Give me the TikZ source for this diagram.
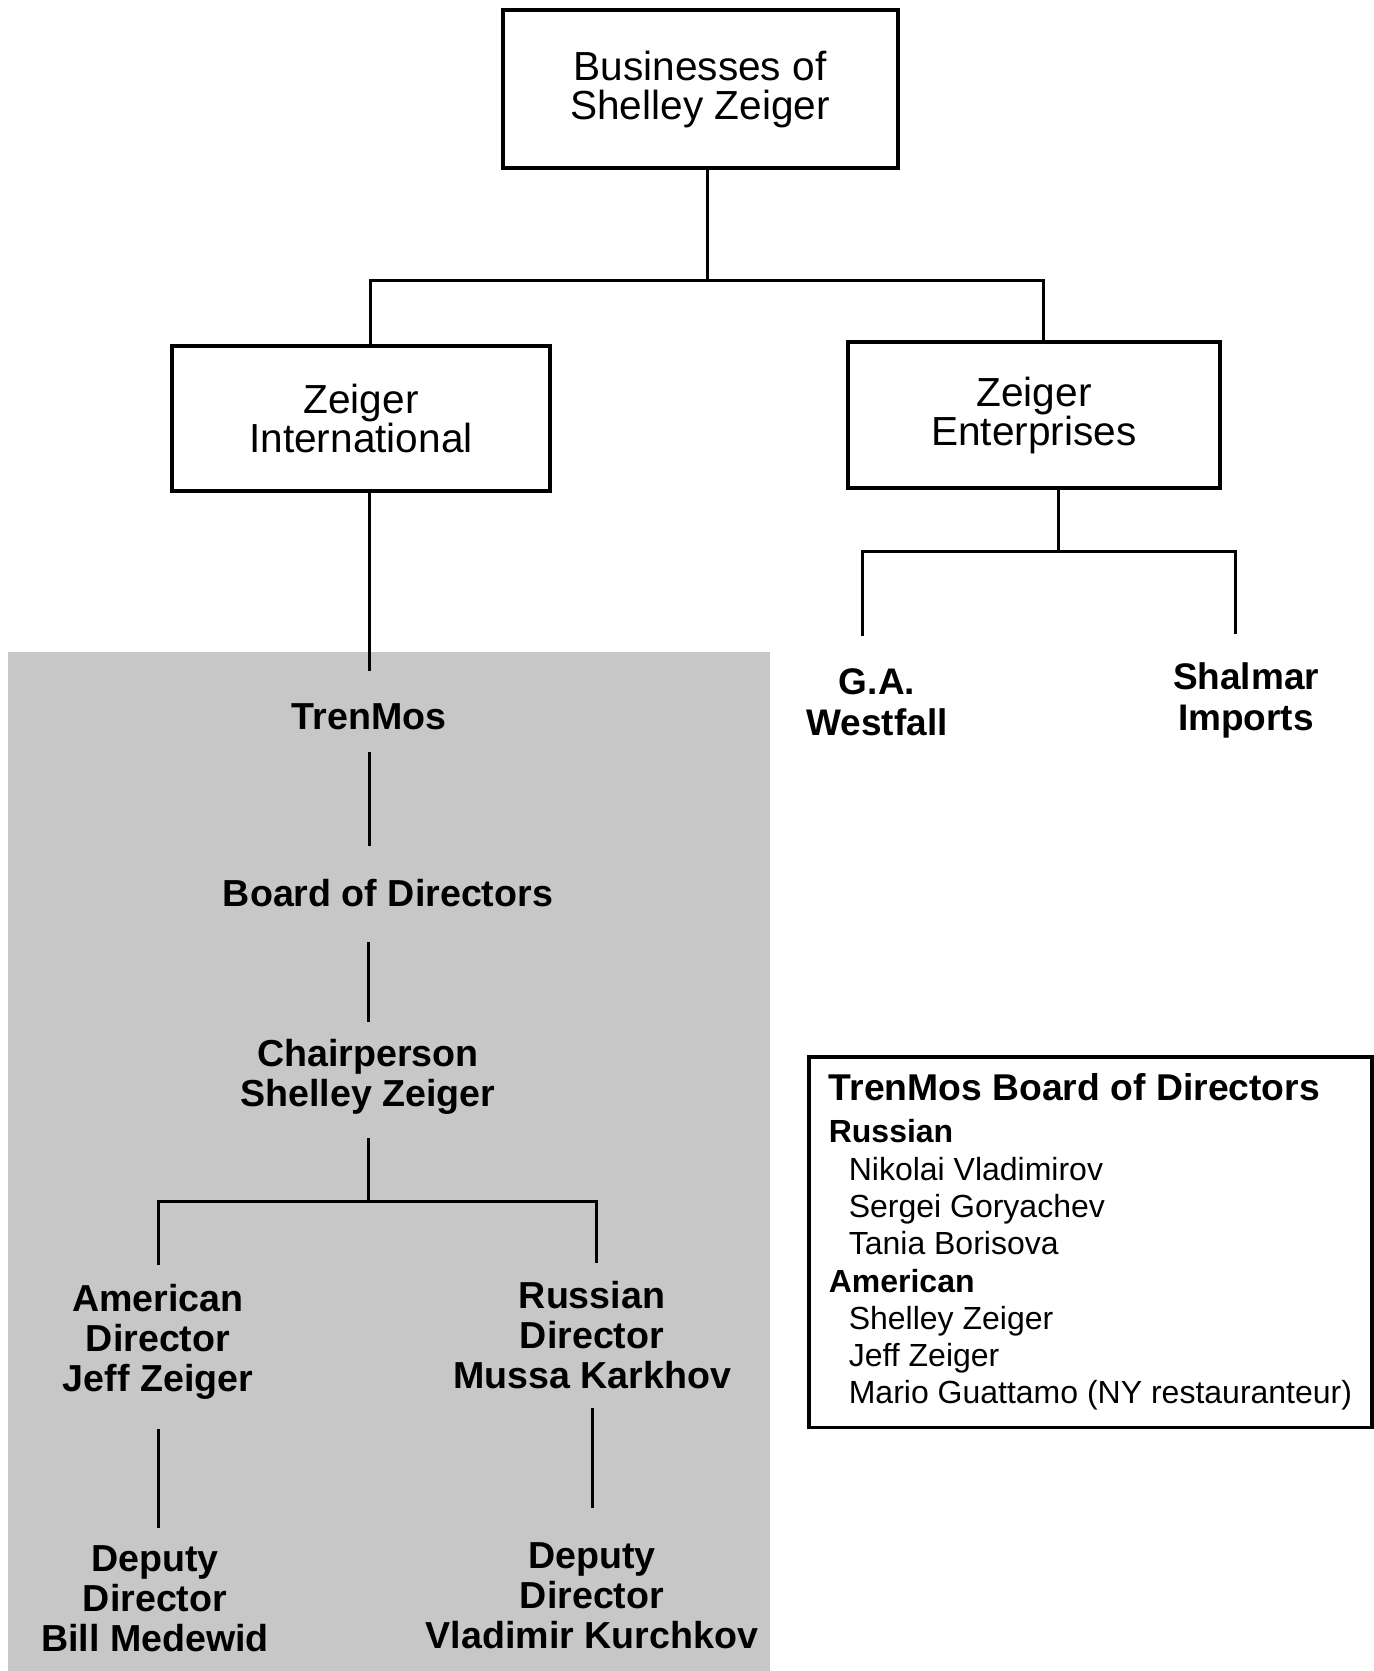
\documentclass[tikz,border=0pt]{standalone}
\usepackage{fontspec}
\setmainfont{Liberation Sans}
\begin{document}
\begin{tikzpicture}[
  x=0.5pt, y=-0.5pt,
  bizbox/.style={draw=black, line width=2pt, align=center, inner sep=0pt, font=\fontsize{20.3}{19.5}\selectfont},
  firm/.style={align=center, inner sep=0pt, font=\fontsize{18.5}{20.5}\selectfont\bfseries},
  post/.style={align=center, inner sep=0pt, font=\fontsize{18.8}{20}\selectfont\bfseries},
  link/.style={line width=1.5pt},
  members/.style={draw=black, line width=1.8pt, align=left, inner xsep=10pt, inner ysep=8.5pt, font=\fontsize{16}{18.65}\selectfont}
]
  \useasboundingbox (0,0) rectangle (1374,1671);

  % Zona sombreada de TrenMos
  \fill[black!22] (8,652) rectangle (770,1671);

  % Empresas (cajas)
  \node[bizbox, minimum width=197.5pt, minimum height=79pt] (biz) at (700,89) {Businesses of\\Shelley Zeiger};
  \node[bizbox, minimum width=189pt, minimum height=72.5pt] (zi) at (361,418) {Zeiger\\International};
  \node[bizbox, minimum width=186pt, minimum height=73pt] (ze) at (1034,415) {Zeiger\\Enterprises};

  % Filiales de Zeiger Enterprises
  \node[firm] (westfall) at (877,702) {G.A.\\Westfall};
  \node[firm] (shalmar) at (1246,700) {Shalmar\\Imports};

  % Cargos de TrenMos
  \node[post] (trenmos) at (369,717) {TrenMos};
  \node[post] (board) at (388,893) {Board of Directors};
  \node[post] (chair) at (368,1077) {Chairperson\\Shelley Zeiger};
  \node[post] (amdir) at (158,1342) {American\\Director\\Jeff Zeiger};
  \node[post] (rudir) at (592,1335) {Russian\\Director\\Mussa Karkhov};
  \node[post] (amdep) at (155,1599) {Deputy\\Director\\Bill Medewid};
  \node[post] (rudep) at (592,1596) {Deputy\\Director\\Vladimir Kurchkov};

  % Recuadro con los miembros del consejo
  \node[members, anchor=north west] (roster) at (807,1055) {%
    {\fontsize{18.65}{21}\selectfont\bfseries TrenMos Board of Directors}\\[2.35pt]
    \textbf{Russian}\\
    \hspace*{10pt}Nikolai Vladimirov\\
    \hspace*{10pt}Sergei Goryachev\\
    \hspace*{10pt}Tania Borisova\\
    \textbf{American}\\
    \hspace*{10pt}Shelley Zeiger\\
    \hspace*{10pt}Jeff Zeiger\\
    \hspace*{10pt}Mario Guattamo (NY restauranteur)};

  % Puntos de unión de las ramas
  \coordinate (tbar) at (707,280);
  \coordinate (tbarl) at (370,280);
  \coordinate (tbarr) at (1043,280);
  \coordinate (zebar) at (1058,551);
  \coordinate (gaw) at ([xshift=-7.5pt, yshift=16pt]westfall.north);
  \coordinate (shi) at ([xshift=-5.5pt, yshift=14pt]shalmar.north);
  \coordinate (cbar) at (368,1201);

  % Ramas superiores
  \draw[link] (biz.south -| tbar) -- (tbar);
  \draw[link] (zi.north -| tbarl) -- (tbarl) -- (tbarr) -- (ze.north -| tbarr);
  \draw[link] (ze.south -| zebar) -- (zebar);
  \draw[link] (gaw) |- (zebar) -| (shi);

  % Ramas de TrenMos
  \draw[link, shorten >=16pt] (zi.south -| trenmos) -- (trenmos.north);
  \draw[link, shorten <=10.5pt, shorten >=16.5pt] (trenmos.south) -- (trenmos.south |- board.north);
  \draw[link, shorten <=17.5pt, shorten >=8.5pt] (chair.north |- board.south) -- (chair.north);
  \draw[link, shorten <=11.5pt] (chair.south) -- (cbar);
  \draw[link, shorten <=9.5pt, shorten >=9pt] (amdir.north) |- (cbar) -| ([xshift=2pt]rudir.north);
  \draw[link, shorten <=14.5pt, shorten >=9pt] (amdir.south) -- (amdir.south |- amdep.north);
  \draw[link, shorten <=9.5pt, shorten >=17.5pt] (rudir.south) -- (rudir.south |- rudep.north);

\end{tikzpicture}
\end{document}
